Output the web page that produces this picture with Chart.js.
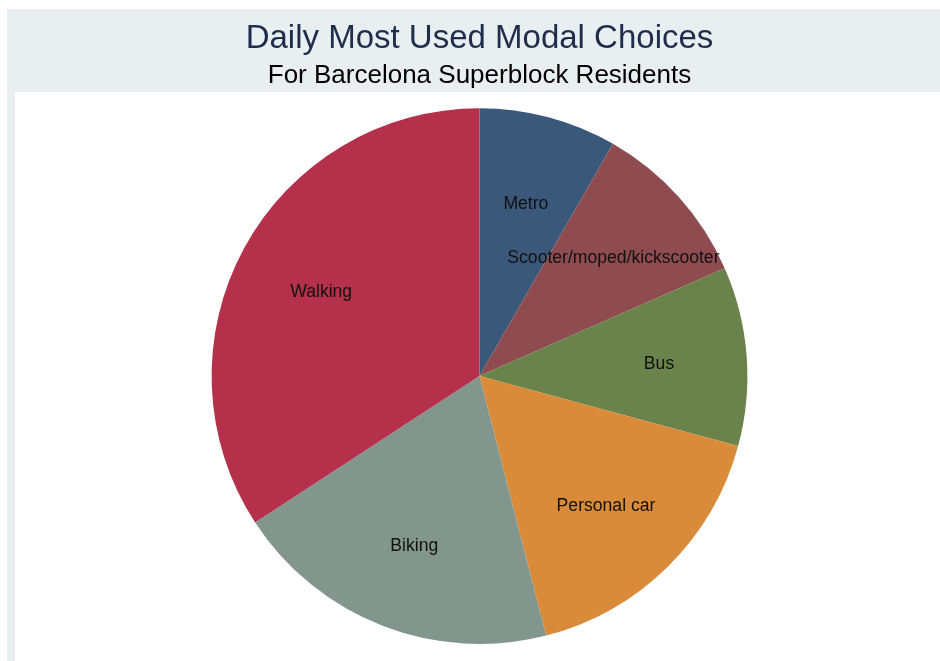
<!DOCTYPE html>
<html>
<head>
<meta charset="utf-8">
<script src="https://cdn.jsdelivr.net/npm/chart.js@4.4.1/dist/chart.umd.min.js"></script>
<style>
  html, body { margin: 0; padding: 0; background: #ffffff; }
  #frame { position: relative; width: 940px; height: 661px; background: #ffffff; overflow: hidden; }
  #outer { position: absolute; left: 7px; top: 9px; right: 0; bottom: 0; background: #e9eef0; }
  #inner { position: absolute; left: 15px; top: 92px; right: 0; bottom: 0; background: #ffffff; }
  #chart { position: absolute; left: 0; top: 0; }
</style>
</head>
<body>
<div id="frame">
  <div id="outer"></div>
  <div id="inner"></div>
  <canvas id="chart" width="940" height="661"></canvas>
</div>
<script>
// Share of residents (%) naming each mode as their most used daily choice
const modes = ['Metro', 'Scooter/moped/kickscooter', 'Bus', 'Personal car', 'Biking', 'Walking'];
const shares = [8.3, 10.1, 10.8, 16.8, 19.8, 34.2];
const sliceColors = ['#3a587a', '#8e4c50', '#6a834a', '#d98b3a', '#83968d', '#b5304a'];

const titleText = 'Daily Most Used Modal Choices';
const subtitleText = 'For Barcelona Superblock Residents';

// Writes each category name inside its slice, along the slice's mid-angle
const sliceLabels = {
  id: 'sliceLabels',
  afterDatasetsDraw(chart) {
    const { ctx } = chart;
    const meta = chart.getDatasetMeta(0);
    ctx.save();
    ctx.font = '17.6px "Liberation Sans", Arial, sans-serif';
    ctx.fillStyle = '#111111';
    ctx.textAlign = 'center';
    ctx.textBaseline = 'middle';
    meta.data.forEach((arc, i) => {
      const p = arc.getProps(['x', 'y', 'startAngle', 'endAngle', 'outerRadius'], true);
      const mid = (p.startAngle + p.endAngle) / 2;
      const r = p.outerRadius * 0.672;
      ctx.fillText(chart.data.labels[i], p.x + Math.cos(mid) * r, p.y + Math.sin(mid) * r + 2);
    });
    ctx.restore();
  }
};

new Chart(document.getElementById('chart'), {
  type: 'pie',
  data: {
    labels: modes,
    datasets: [{
      data: shares,
      backgroundColor: sliceColors,
      borderWidth: 0
    }]
  },
  options: {
    responsive: false,
    animation: false,
    layout: { padding: { left: 19, right: 0, top: 0, bottom: 17 } },
    plugins: {
      legend: { display: false },
      tooltip: { enabled: false },
      title: {
        display: true,
        text: titleText,
        color: '#1f2c4c',
        font: { family: '"Liberation Sans", Arial, sans-serif', size: 33, weight: 'normal' },
        padding: { top: 19, bottom: 2 }
      },
      subtitle: {
        display: true,
        text: subtitleText,
        color: '#000000',
        font: { family: '"Liberation Sans", Arial, sans-serif', size: 26, weight: 'normal' },
        padding: { top: 0, bottom: 16.4 }
      }
    }
  },
  plugins: [sliceLabels]
});
</script>
</body>
</html>
